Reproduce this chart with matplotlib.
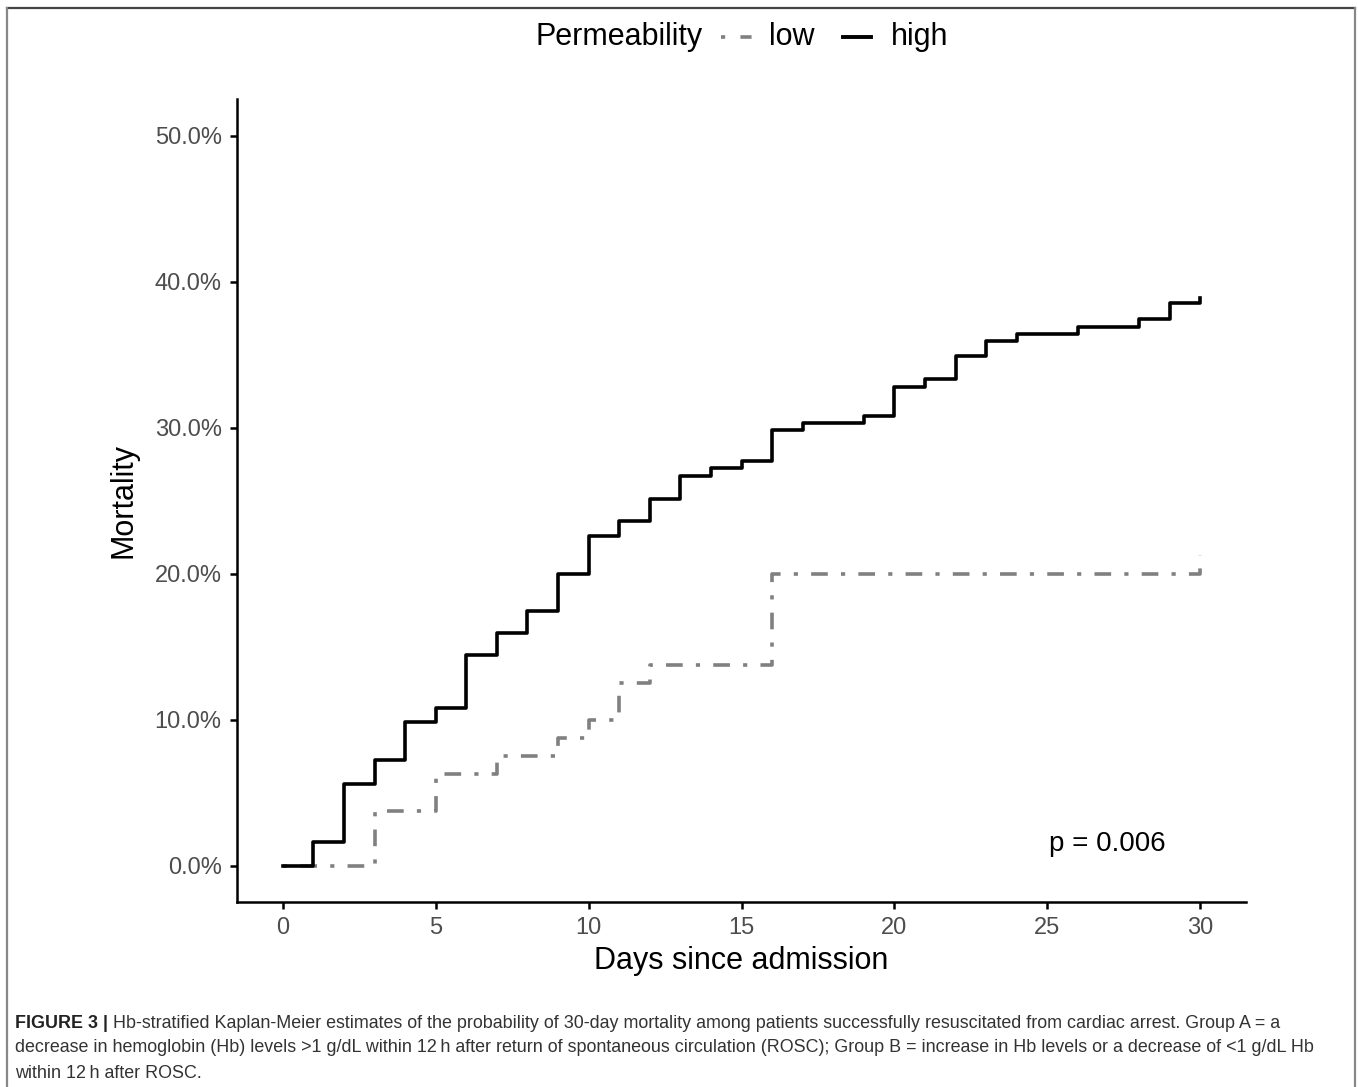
import matplotlib
matplotlib.use("Agg")
import matplotlib.pyplot as plt
import matplotlib.lines as lines
import numpy as np

plt.rcParams['font.family'] = ['Liberation Sans', 'DejaVu Sans']
plt.rcParams['lines.scale_dashes'] = False

# Kaplan-Meier step estimates (% mortality)
high_days = [0, 1, 2, 3, 4, 5, 6, 7, 8, 9, 10, 11, 12, 13, 14, 15, 16, 17, 19, 20,
             21, 22, 23, 24, 26, 28, 29, 30]
high_mort = [0, 1.6, 5.6, 7.2, 9.8, 10.8, 14.4, 15.9, 17.4, 20.0, 22.6, 23.6, 25.1,
             26.7, 27.2, 27.7, 29.8, 30.3, 30.8, 32.8, 33.3, 34.9, 35.9, 36.4, 36.9,
             37.4, 38.5, 38.9]

low_days = [0, 3, 5, 7, 9, 10, 11, 12, 16, 30]
low_mort = [0, 3.75, 6.25, 7.5, 8.75, 10.0, 12.5, 13.75, 20.0, 21.25]

xticks = [0, 5, 10, 15, 20, 25, 30]
yticks = [0, 10, 20, 30, 40, 50]
ytick_labels = ['{:.1f}%'.format(v) for v in yticks]

caption = [
    ("FIGURE 3 | ", "Hb-stratified Kaplan-Meier estimates of the probability of 30-day mortality among patients successfully resuscitated from cardiac arrest. Group A = a"),
    ("", "decrease in hemoglobin (Hb) levels >1 g/dL within 12\u2009h after return of spontaneous circulation (ROSC); Group B = increase in Hb levels or a decrease of <1 g/dL Hb"),
    ("", "within 12\u2009h after ROSC."),
]

W, H = 1358, 1087
fig = plt.figure(figsize=(W / 100, H / 100), dpi=100)
ax = fig.add_axes([237 / W, 1 - 902 / H, (1246 - 237) / W, (902 - 99) / H])

lowstyle = (0, (3, 9.5, 12, 9.5))
ax.step(low_days, low_mort, where='post', color='#808080', lw=2.6, linestyle=lowstyle)
ax.step(high_days, high_mort, where='post', color='black', lw=2.6)

ax.set_xlim(-1.5, 31.5)
ax.set_ylim(-2.5, 52.5)
ax.set_xticks(xticks)
ax.set_yticks(yticks)
ax.set_yticklabels(ytick_labels)
ax.tick_params(labelsize=17, labelcolor='#4D4D4D', length=5, width=1.8, color='black', pad=6)
for s in ['top', 'right']:
    ax.spines[s].set_visible(False)
for s in ['left', 'bottom']:
    ax.spines[s].set_linewidth(1.8)

ax.set_xlabel('Days since admission', fontsize=22, labelpad=5)
ax.set_ylabel('Mortality', fontsize=22, labelpad=12)
ax.text(26.95, 1.45, 'p = 0.006', fontsize=20, ha='center', va='center')

# legend at top, laid out by hand
ly = 1 - 37 / H
fig.text(536 / W, ly, 'Permeability', fontsize=22, ha='left', va='center')
fig.add_artist(lines.Line2D([721 / W, 752 / W], [ly, ly], color='#808080', lw=2.6,
                            linestyle=(0, (3, 11, 8, 20))))
fig.text(769 / W, ly, 'low', fontsize=22, ha='left', va='center')
fig.add_artist(lines.Line2D([843 / W, 871 / W], [ly, ly], color='black', lw=2.8))
fig.text(891 / W, ly, 'high', fontsize=22, ha='left', va='center')

# caption
renderer = fig.canvas.get_renderer()
cap_y = [1023, 1048, 1073]
for (bold, rest), y in zip(caption, cap_y):
    x0 = 15 / W
    if bold:
        t = fig.text(x0, 1 - y / H, bold, fontsize=12.85, fontweight='bold', color='#222222',
                     va='center')
        bb = t.get_window_extent(renderer)
        x0 = bb.x1 / W
    fig.text(x0, 1 - y / H, rest, fontsize=12.85, color='#333333', va='center')

# frame around the figure panel
fig.add_artist(lines.Line2D([7 / W, 1355 / W], [1 - 8 / H, 1 - 8 / H], color='#444444', lw=1.6))
fig.add_artist(lines.Line2D([7 / W, 7 / W], [0, 1 - 8 / H], color='#888888', lw=1.6))
fig.add_artist(lines.Line2D([1355 / W, 1355 / W], [0, 1 - 8 / H], color='#888888', lw=1.6))

fig.savefig('out.png', dpi=100)
